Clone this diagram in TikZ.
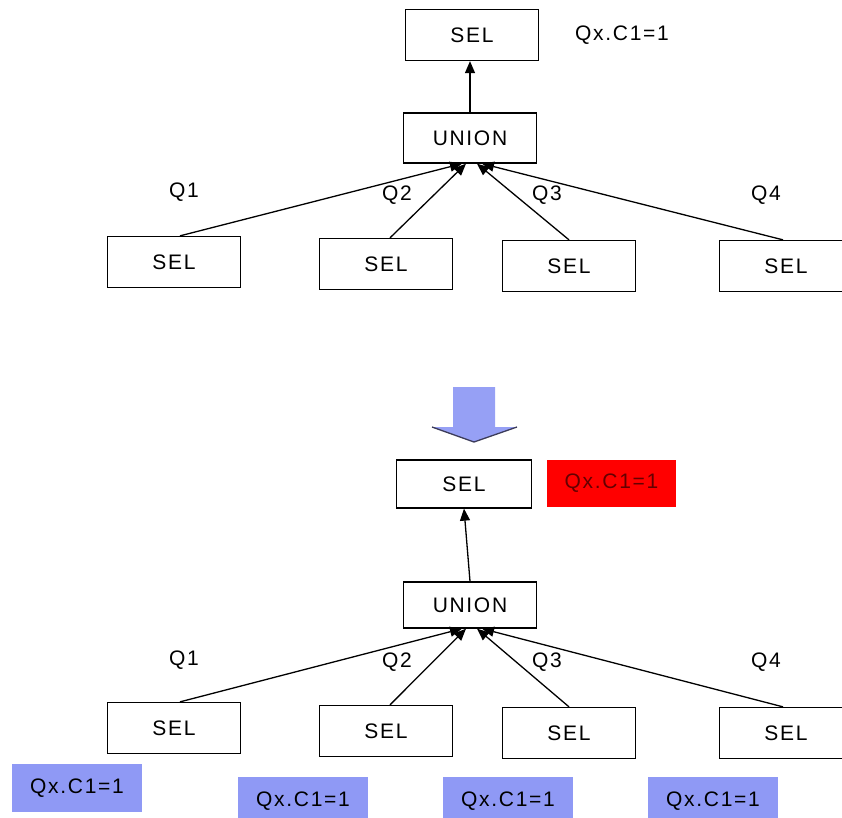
\documentclass[tikz,border=0pt]{standalone}
\usepackage{fontspec}
\setmainfont{Liberation Sans}[LetterSpace=8]
\usetikzlibrary{arrows.meta,calc}
\definecolor{predblue}{RGB}{143,153,245}
\definecolor{arrowblue}{RGB}{150,160,245}
\definecolor{arrowedge}{RGB}{60,60,90}
\definecolor{darkred}{RGB}{100,0,0}

\begin{document}
\begin{tikzpicture}[x=1pt,y=-1pt,
  every node/.style={font=\fontsize{21}{24}\selectfont},
  opbox/.style={draw,line width=1.3pt,fill=white,minimum width=133pt,minimum height=51pt,inner sep=0pt},
  pred/.style={fill=predblue,minimum width=130pt,minimum height=48pt,inner sep=0pt},
  hot/.style={fill=red,text=darkred,minimum width=129pt,minimum height=47pt,inner sep=0pt},
  arr/.style={line width=1.3pt,-{Triangle[length=12pt,width=10pt]}},
]
\useasboundingbox (0,0) rectangle (842,817);
\clip (0,0) rectangle (842,817);

% ---- original plan ----
\node[opbox] (sel0) at (472,35) {SEL};
\node (lbl0) at (622,35) {Qx.C1=1};
\node[opbox,minimum height=50pt] (u0) at (470,138) {UNION};

\node[opbox] (s1) at (174,262) {SEL};
\node[opbox] (s2) at (386,264) {SEL};
\node[opbox] (s3) at (569,266) {SEL};
\node[opbox] (s4) at (786,266) {SEL};

\node (q1) at (184,192) {Q1};
\node (q2) at (397,195) {Q2};
\node (q3) at (547,195) {Q3};
\node (q4) at (766,195) {Q4};

\coordinate (u0a) at ($(u0.south)+(-8,0)$);
\coordinate (u0b) at ($(u0.south)+(-4,0)$);
\coordinate (u0c) at ($(u0.south)+(7,0)$);
\coordinate (u0d) at ($(u0.south)+(12,0)$);

\draw[arr] (u0.north) -- (u0.north |- sel0.south);
\draw[arr] ($(s1.north)+(6,0)$) -- (u0a);
\draw[arr] ($(s2.north)+(4,0)$) -- (u0b);
\draw[arr] (s3.north) -- (u0c);
\draw[arr] ($(s4.north)+(-3,0)$) -- (u0d);

% ---- rewrite arrow ----
\fill[arrowblue] (453,387) -- (495,387) -- (495,427) -- (517,427)
  -- (474,442) -- (432,427) -- (453,427) -- cycle;
\draw[arrowedge,line width=1.3pt,line join=round] (432,427) -- (474,442) -- (517,427);

% ---- pushed-down plan ----
\node[opbox,minimum width=135pt,minimum height=48pt] (sel1) at (464,484) {SEL};
\node[hot] (lbl1) at (611.5,483.5) {Qx.C1=1};
\node[opbox,minimum height=46pt] (u1) at (470,605) {UNION};

\node[opbox] (t1) at (174,728) {SEL};
\node[opbox] (t2) at (386,731) {SEL};
\node[opbox] (t3) at (569,733) {SEL};
\node[opbox] (t4) at (786,733) {SEL};

\node (p1) at (184,660) {Q1};
\node (p2) at (397,662) {Q2};
\node (p3) at (547,662) {Q3};
\node (p4) at (766,662) {Q4};

\coordinate (u1a) at ($(u1.south)+(-8,0)$);
\coordinate (u1b) at ($(u1.south)+(-4,0)$);
\coordinate (u1c) at ($(u1.south)+(7,0)$);
\coordinate (u1d) at ($(u1.south)+(12,0)$);

\draw[arr] (u1.north) -- (sel1.south);
\draw[arr] ($(t1.north)+(6,0)$) -- (u1a);
\draw[arr] ($(t2.north)+(4,0)$) -- (u1b);
\draw[arr] (t3.north) -- (u1c);
\draw[arr] ($(t4.north)+(-3,0)$) -- (u1d);

\node[pred] (b1) at (77,788) {Qx.C1=1};
\node[pred] (b2) at (303,801) {Qx.C1=1};
\node[pred] (b3) at (508,801) {Qx.C1=1};
\node[pred] (b4) at (713,801) {Qx.C1=1};
\end{tikzpicture}
\end{document}
